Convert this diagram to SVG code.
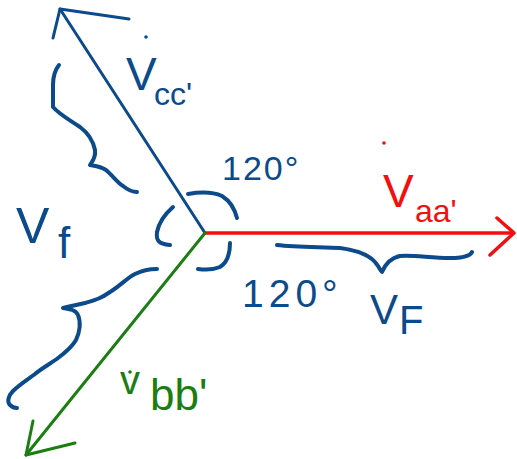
<svg xmlns="http://www.w3.org/2000/svg" width="517" height="459" viewBox="0 0 517 459">
<style>
.b{stroke:#0b4a8b;fill:none;stroke-width:3;stroke-linecap:round;stroke-linejoin:round}
.h{stroke:#0b4a8b;fill:none;stroke-width:4;stroke-linecap:round;stroke-linejoin:round}
.r{stroke:#f20f0f;fill:none;stroke-width:3.5;stroke-linecap:round;stroke-linejoin:round}
.g{stroke:#1b7d12;fill:none;stroke-width:3;stroke-linecap:round;stroke-linejoin:round}
text{font-family:"Liberation Sans","DejaVu Sans",sans-serif}
.tb{fill:#0b4a8b}.tr{fill:#f20f0f}.tg{fill:#1b7d12}
</style>
<rect width="517" height="459" fill="#fff"/>
<g id="connectors">
<g id="vcc">
<path class="b" d="M205,233 L60,9"/>
<path class="b" d="M129,19 L60,9 L53,38"/>
</g>
<g id="vaa">
<path class="r" d="M205,233 L513,233"/>
<path class="r" d="M497,218 L514,233 L490,255"/>
</g>
<g id="vbb">
<path class="g" d="M205,233 L26,455"/>
<path class="g" d="M33,421 L26,455 L75,443"/>
</g>
</g>
<g id="braces">
<path class="h" d="M59,65 C55,70 53,75 53,85 L53,107 C60,115 70,120 80,127 C88,133 93,140 95,150 C96,158 92,162 90,165 C96,166 100,166 106,170 C113,176 118,183 123,186 C128,190 132,192 137,192"/>
<path class="h" d="M188,194 C200,192 213,192 222,196 C230,201 235,210 237,218"/>
<path class="h" d="M173,207 C165,214 159,222 157,232 C156,240 158,244 170,245"/>
<path class="h" d="M230,243 C230,252 228,262 220,267 C213,270 205,270 198,269"/>
<path class="h" d="M277,245 C295,247 320,247 340,248 C355,250 368,254 375,262 C380,268 381,272 382,272 C385,265 390,258 400,256 C415,255 430,258 450,258 C462,258 470,256 472,252"/>
<path class="h" d="M157,269 C150,269 143,270 135,274 C127,278 120,286 110,292 C100,299 95,300 85,303 C75,305 68,307 63,308 C70,309 76,310 78,315 C81,322 80,332 76,340 C72,347 66,352 58,358 C50,364 42,368 35,374 C27,380 20,384 13,391 C8,396 7,402 10,405 C12,407 15,408 17,408"/>
</g>
<g id="label-vcc">
<circle class="tb" cx="146" cy="37" r="1.8"/>
<text class="tb" x="126" y="90" font-size="46">V</text>
<text class="tb" x="154" y="105" font-size="32">cc'</text>
</g>
<g id="label-vaa">
<circle class="tr" cx="384" cy="143" r="1.8"/>
<text class="tr" x="383" y="207" font-size="46">V</text>
<text class="tr" x="415" y="222" font-size="32">aa'</text>
</g>
<g id="label-vbb">
<circle class="tg" cx="130" cy="372" r="1.8"/>
<text class="tg" x="120" y="394" font-size="40">v</text>
<text class="tg" x="150" y="410" font-size="44">bb'</text>
</g>
<g id="label-vf">
<text class="tb" x="16" y="243" font-size="50">V</text>
<text class="tb" x="58" y="258" font-size="44">f</text>
</g>
<g id="label-vF">
<text class="tb" x="370" y="324" font-size="42">V</text>
<text class="tb" x="399" y="334" font-size="40">F</text>
</g>
<g id="label-120a">
<text class="tb" x="222" y="180" font-size="34" letter-spacing="2">120°</text>
</g>
<g id="label-120b">
<text class="tb" x="242" y="307" font-size="39" letter-spacing="5">120°</text>
</g>
</svg>
